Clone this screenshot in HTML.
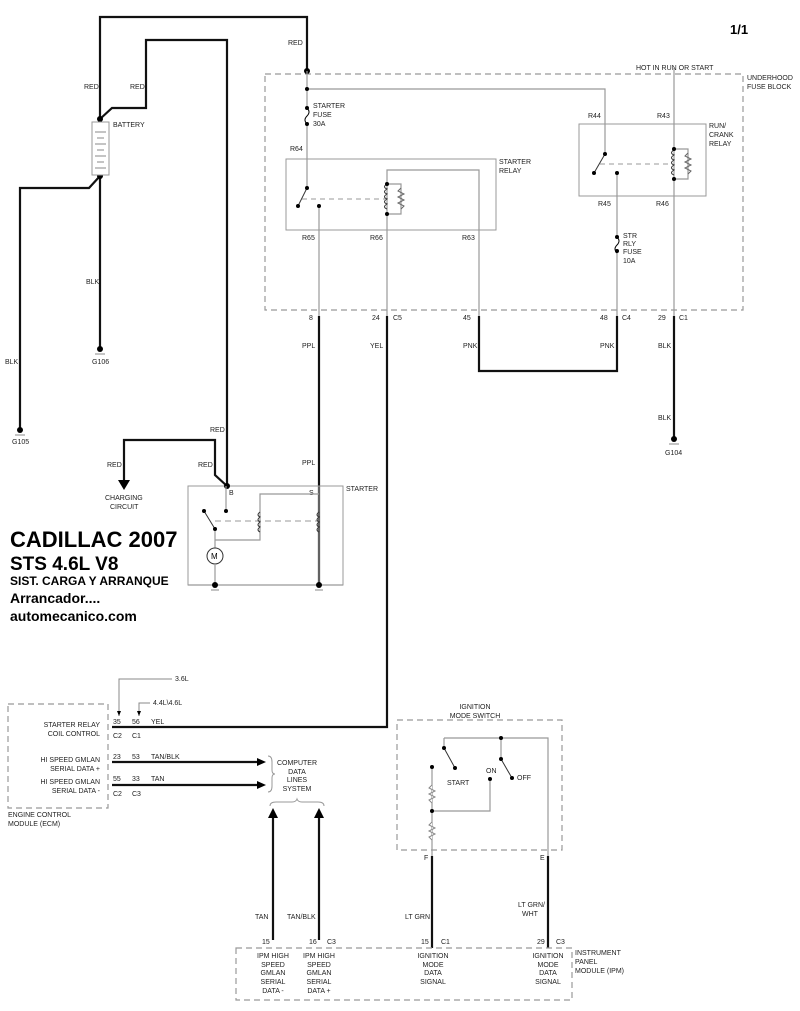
<!DOCTYPE html>
<html><head><meta charset="utf-8"><style>
body{margin:0;background:#fff}
svg{display:block;font-family:"Liberation Sans",sans-serif}
.t{font-size:7px;fill:#222}
.k{stroke:#111;stroke-width:2.2;fill:none}
.g{stroke:#999;stroke-width:1.2;fill:none}
.d{stroke:#999;stroke-width:1.2;fill:none;stroke-dasharray:6,4}
.b{font-weight:bold;fill:#000}
</style></head><body>
<svg width="800" height="1011" viewBox="0 0 800 1011">
<rect width="800" height="1011" fill="#fff"/>
<text x="730" y="34" class="b" font-size="13">1/1</text>

<path class="k" d="M100,119 V17 H307 V71"/>
<path class="k" d="M100,119 L112,108 H146 V40 H227 V486"/>
<path class="k" d="M227,486 L215,475 V440 H124 V480"/>
<polygon points="118,480 130,480 124,490" fill="#000"/>
<path class="k" d="M100,176 L89,188 H20 V430"/>
<path class="k" d="M100,176 V348"/>
<circle cx="100" cy="119" r="3" fill="#000"/><circle cx="100" cy="176" r="3" fill="#000"/>
<rect x="92" y="122" width="17" height="53" fill="#fff" stroke="#999"/>
<g stroke="#888" stroke-width="1"><line x1="95" y1="132" x2="106" y2="132"/><line x1="97" y1="138" x2="104" y2="138"/><line x1="95" y1="144" x2="106" y2="144"/><line x1="97" y1="150" x2="104" y2="150"/><line x1="95" y1="156" x2="106" y2="156"/><line x1="97" y1="162" x2="104" y2="162"/><line x1="95" y1="168" x2="106" y2="168"/></g>
<text x="113" y="127" class="t">BATTERY</text>
<text x="84" y="89" class="t">RED</text><text x="130" y="89" class="t">RED</text><text x="288" y="45" class="t">RED</text>
<text x="86" y="284" class="t">BLK</text><text x="5" y="364" class="t">BLK</text>
<circle cx="100" cy="349" r="3" fill="#000"/><line x1="95" y1="354" x2="105" y2="354" stroke="#888"/><text x="92" y="364" class="t">G106</text>
<circle cx="20" cy="430" r="3" fill="#000"/><line x1="15" y1="435" x2="25" y2="435" stroke="#888"/><text x="12" y="444" class="t">G105</text>
<text x="210" y="432" class="t">RED</text><text x="107" y="467" class="t">RED</text><text x="198" y="467" class="t">RED</text>
<text x="105" y="500" class="t">CHARGING</text><text x="110" y="509" class="t">CIRCUIT</text>

<rect x="265" y="74" width="478" height="236" class="d"/>
<text x="636" y="70" class="t">HOT IN RUN OR START</text>
<text x="747" y="80" class="t">UNDERHOOD</text><text x="747" y="89" class="t">FUSE BLOCK</text>
<circle cx="307" cy="71" r="3" fill="#000"/>
<path class="g" d="M307,71 V108 M307,125 V188 M307,89 H605 V154"/>
<circle cx="307" cy="89" r="2" fill="#000"/>
<path d="M307,108 q4,4 0,8 q-4,4 0,8" stroke="#000" fill="none"/>
<circle cx="307" cy="108" r="2" fill="#000"/><circle cx="307" cy="124" r="2" fill="#000"/>
<text x="313" y="108" class="t">STARTER</text><text x="313" y="117" class="t">FUSE</text><text x="313" y="126" class="t">30A</text>
<text x="290" y="151" class="t">R64</text>
<rect x="286" y="159" width="210" height="71" fill="none" stroke="#999"/>
<text x="499" y="164" class="t">STARTER</text><text x="499" y="173" class="t">RELAY</text>
<path class="g" d="M319,206 V316 M387,316 V170 H479 V316"/>
<path stroke="#333" d="M307,188 L298,206" fill="none"/><circle cx="307" cy="188" r="2" fill="#000"/><circle cx="298" cy="206" r="2" fill="#000"/><circle cx="319" cy="206" r="2" fill="#000"/>
<line x1="302" y1="199" x2="385" y2="199" stroke="#999" stroke-dasharray="5,4"/>
<path d="M387,184 q-5,3 0,5 q-5,3 0,5 q-5,3 0,5 q-5,3 0,5 q-5,3 0,5" stroke="#333" fill="none"/>
<path class="g" d="M387,184 H401 V214 H387"/><path d="M401,188 l-3,3 l6,3 l-6,3 l6,3 l-6,3 l6,3 l-3,3" stroke="#666" fill="none"/>
<circle cx="387" cy="184" r="2" fill="#000"/><circle cx="387" cy="214" r="2" fill="#000"/>
<text x="302" y="240" class="t">R65</text><text x="370" y="240" class="t">R66</text><text x="462" y="240" class="t">R63</text>
<rect x="579" y="124" width="127" height="72" fill="none" stroke="#999"/>
<path class="g" d="M674,68 V316 M617,173 V236 M617,252 V316"/>
<path stroke="#333" d="M605,154 L594,173" fill="none"/><circle cx="605" cy="154" r="2" fill="#000"/><circle cx="594" cy="173" r="2" fill="#000"/><circle cx="617" cy="173" r="2" fill="#000"/>
<line x1="600" y1="164" x2="672" y2="164" stroke="#999" stroke-dasharray="5,4"/>
<path d="M674,150 q-5,3 0,5 q-5,3 0,5 q-5,3 0,5 q-5,3 0,5 q-5,3 0,5" stroke="#333" fill="none"/>
<path class="g" d="M674,149 H688 V179 H674"/><path d="M688,153 l-3,3 l6,3 l-6,3 l6,3 l-6,3 l6,3 l-3,3" stroke="#666" fill="none"/>
<circle cx="674" cy="149" r="2" fill="#000"/><circle cx="674" cy="179" r="2" fill="#000"/>
<text x="588" y="118" class="t">R44</text><text x="657" y="118" class="t">R43</text>
<text x="709" y="128" class="t">RUN/</text><text x="709" y="137" class="t">CRANK</text><text x="709" y="146" class="t">RELAY</text>
<text x="598" y="206" class="t">R45</text><text x="656" y="206" class="t">R46</text>
<path d="M617,237 q4,4 0,8 q-4,4 0,8" stroke="#000" fill="none"/>
<circle cx="617" cy="237" r="2" fill="#000"/><circle cx="617" cy="251" r="2" fill="#000"/>
<text x="623" y="238" class="t">STR</text><text x="623" y="246" class="t">RLY</text><text x="623" y="254" class="t">FUSE</text><text x="623" y="263" class="t">10A</text>
<g class="t"><text x="309" y="320">8</text><text x="372" y="320">24</text><text x="393" y="320">C5</text><text x="463" y="320">45</text><text x="600" y="320">48</text><text x="622" y="320">C4</text><text x="658" y="320">29</text><text x="679" y="320">C1</text></g>

<path class="k" d="M319,316 V585"/>
<path class="k" d="M387,316 V727 H112"/>
<path class="k" d="M479,316 V371 H617 V316"/>
<path class="k" d="M674,316 V438"/>
<text x="302" y="348" class="t">PPL</text><text x="302" y="465" class="t">PPL</text><text x="370" y="348" class="t">YEL</text>
<text x="463" y="348" class="t">PNK</text><text x="600" y="348" class="t">PNK</text>
<text x="658" y="348" class="t">BLK</text><text x="658" y="420" class="t">BLK</text>
<circle cx="674" cy="439" r="3" fill="#000"/><line x1="669" y1="444" x2="679" y2="444" stroke="#888"/><text x="665" y="455" class="t">G104</text>

<rect x="188" y="486" width="155" height="99" fill="none" stroke="#999"/>
<circle cx="227" cy="486" r="3" fill="#000"/>
<text x="229" y="495" class="t">B</text><text x="309" y="495" class="t">S</text><text x="346" y="491" class="t">STARTER</text>
<path class="g" d="M226,486 V511 M319,486 V585 M215,529 V548 M215,565 V585 M188,585 H343 M319,494 H260 V540 H215"/>
<path stroke="#333" d="M204,511 L215,529" fill="none"/><circle cx="204" cy="511" r="2" fill="#000"/><circle cx="215" cy="529" r="2" fill="#000"/><circle cx="226" cy="511" r="2" fill="#000"/>
<line x1="215" y1="521" x2="317" y2="521" stroke="#999" stroke-dasharray="6,4"/>
<path d="M260,512 q-4,3 0,5 q-4,3 0,5 q-4,3 0,5 q-4,3 0,5" stroke="#333" fill="none"/>
<path d="M319,512 q-4,3 0,5 q-4,3 0,5 q-4,3 0,5 q-4,3 0,5" stroke="#333" fill="none"/>
<circle cx="215" cy="556" r="8" fill="#fff" stroke="#333"/><text x="211" y="559" font-size="8">M</text>
<circle cx="215" cy="585" r="3" fill="#000"/><circle cx="319" cy="585" r="3" fill="#000"/>
<line x1="211" y1="590" x2="219" y2="590" stroke="#888"/><line x1="315" y1="590" x2="323" y2="590" stroke="#888"/>

<text x="10" y="547" class="b" font-size="22">CADILLAC 2007</text>
<text x="10" y="570" class="b" font-size="19">STS  4.6L  V8</text>
<text x="10" y="585" class="b" font-size="12">SIST. CARGA Y ARRANQUE</text>
<text x="10" y="603" class="b" font-size="14">Arrancador....</text>
<text x="10" y="621" class="b" font-size="14">automecanico.com</text>

<rect x="8" y="704" width="100" height="104" class="d"/>
<text x="8" y="817" class="t">ENGINE CONTROL</text><text x="8" y="826" class="t">MODULE (ECM)</text>
<g class="t" text-anchor="end"><text x="100" y="727">STARTER RELAY</text><text x="100" y="736">COIL CONTROL</text><text x="100" y="762">HI SPEED GMLAN</text><text x="100" y="771">SERIAL DATA +</text><text x="100" y="784">HI SPEED GMLAN</text><text x="100" y="793">SERIAL DATA -</text></g>
<path d="M119,716 V679 H172 M139,716 V703 H150" stroke="#888" fill="none"/>
<polygon points="117,711 121,711 119,716" fill="#000"/><polygon points="137,711 141,711 139,716" fill="#000"/>
<text x="175" y="681" class="t">3.6L</text><text x="153" y="705" class="t">4.4L\4.6L</text>
<g class="t"><text x="113" y="724">35</text><text x="132" y="724">56</text><text x="151" y="724">YEL</text><text x="113" y="738">C2</text><text x="132" y="738">C1</text>
<text x="113" y="759">23</text><text x="132" y="759">53</text><text x="151" y="759">TAN/BLK</text>
<text x="113" y="781">55</text><text x="132" y="781">33</text><text x="151" y="781">TAN</text><text x="113" y="796">C2</text><text x="132" y="796">C3</text></g>
<path class="k" d="M112,762 H258 M112,785 H258"/>
<polygon points="257,758 266,762 257,766" fill="#000"/><polygon points="257,781 266,785 257,789" fill="#000"/>
<path d="M268,756 q4,0 4,6 v8 q0,4 3,4 q-3,0 -3,4 v8 q0,6 -4,6" stroke="#999" fill="none"/>
<g class="t" text-anchor="middle"><text x="297" y="765">COMPUTER</text><text x="297" y="774">DATA</text><text x="297" y="782">LINES</text><text x="297" y="791">SYSTEM</text></g>
<path d="M270,806 q0,-4 6,-4 h16 q4,0 5,-3 q1,3 5,3 h16 q6,0 6,4" stroke="#999" fill="none"/>
<path class="k" d="M273,940 V816 M319,940 V816"/>
<polygon points="268,818 273,808 278,818" fill="#000"/><polygon points="314,818 319,808 324,818" fill="#000"/>
<text x="255" y="919" class="t">TAN</text><text x="287" y="919" class="t">TAN/BLK</text>

<rect x="397" y="720" width="165" height="130" class="d"/>
<text x="475" y="709" class="t" text-anchor="middle">IGNITION</text><text x="475" y="718" class="t" text-anchor="middle">MODE SWITCH</text>
<path class="g" d="M444,738 V748 M444,738 H548 V856 M501,738 V759 M432,767 V856 M432,811 H490 V779"/>
<path stroke="#333" fill="none" d="M444,748 L455,768 M501,759 L512,778"/>
<g fill="#000"><circle cx="444" cy="748" r="2"/><circle cx="455" cy="768" r="2"/><circle cx="501" cy="738" r="2"/><circle cx="501" cy="759" r="2"/><circle cx="512" cy="778" r="2"/><circle cx="432" cy="767" r="2"/><circle cx="490" cy="779" r="2"/><circle cx="432" cy="811" r="2"/></g>
<path d="M432,785 l-3,3 l6,3 l-6,3 l6,3 l-6,3 l3,3 M432,822 l-3,3 l6,3 l-6,3 l6,3 l-6,3 l3,3" stroke="#888" fill="#fff"/>
<text x="447" y="785" class="t">START</text><text x="486" y="773" class="t">ON</text><text x="517" y="780" class="t">OFF</text>
<path class="k" d="M432,856 V948 M548,856 V948"/>
<text x="424" y="860" class="t">F</text><text x="540" y="860" class="t">E</text>
<text x="405" y="919" class="t">LT GRN</text><text x="518" y="907" class="t">LT GRN/</text><text x="522" y="916" class="t">WHT</text>

<rect x="236" y="948" width="336" height="52" class="d"/>
<g class="t"><text x="262" y="944">15</text><text x="309" y="944">16</text><text x="327" y="944">C3</text><text x="421" y="944">15</text><text x="441" y="944">C1</text><text x="537" y="944">29</text><text x="556" y="944">C3</text></g>
<text x="575" y="955" class="t">INSTRUMENT</text><text x="575" y="964" class="t">PANEL</text><text x="575" y="973" class="t">MODULE (IPM)</text>
<g class="t" text-anchor="middle">
<text x="273" y="958">IPM HIGH</text><text x="273" y="967">SPEED</text><text x="273" y="975">GMLAN</text><text x="273" y="984">SERIAL</text><text x="273" y="993">DATA -</text>
<text x="319" y="958">IPM HIGH</text><text x="319" y="967">SPEED</text><text x="319" y="975">GMLAN</text><text x="319" y="984">SERIAL</text><text x="319" y="993">DATA +</text>
<text x="433" y="958">IGNITION</text><text x="433" y="967">MODE</text><text x="433" y="975">DATA</text><text x="433" y="984">SIGNAL</text>
<text x="548" y="958">IGNITION</text><text x="548" y="967">MODE</text><text x="548" y="975">DATA</text><text x="548" y="984">SIGNAL</text>
</g>
</svg>
</body></html>
